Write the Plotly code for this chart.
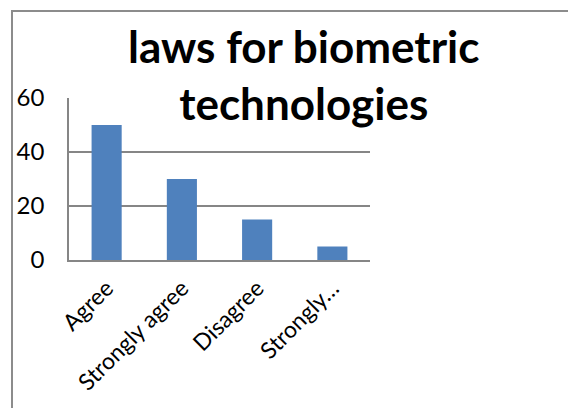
import plotly.graph_objects as go

# Survey responses: laws for biometric technologies
categories = ["Agree", "Strongly agree", "Disagree", "Strongly…"]
responses = [50, 30, 15, 5]
y_ticks = [0, 20, 40, 60]

W, H = 568, 408
ML, MR, MT, MB = 69, 198, 98, 148
plot_w = W - ML - MR
plot_h = H - MT - MB


def px_x(p):
    return (p - ML) / plot_w


def px_y(p):
    return (H - MB - p) / plot_h


fig = go.Figure(
    go.Bar(
        x=categories,
        y=responses,
        marker=dict(color="#4F81BD", line=dict(width=0)),
        width=0.4,
        hoverinfo="x+y",
    )
)

grid = "#868686"
fig.update_layout(
    width=W,
    height=H,
    margin=dict(l=ML, r=MR, t=MT, b=MB, pad=0, autoexpand=False),
    paper_bgcolor="white",
    plot_bgcolor="white",
    showlegend=False,
    font=dict(family="Lato", color="black"),
    xaxis=dict(
        automargin=False,
        showline=True,
        linecolor=grid,
        linewidth=1.5,
        showgrid=False,
        tickangle=-45,
        tickfont=dict(size=23, family="Lato", color="black"),
        ticks="",
        ticklabelstandoff=4,
    ),
    yaxis=dict(
        automargin=False,
        range=[0, 60],
        tickvals=y_ticks,
        showline=True,
        linecolor=grid,
        linewidth=1.5,
        showgrid=True,
        gridcolor=grid,
        gridwidth=1.5,
        zeroline=False,
        ticks="",
        tickfont=dict(size=24, family="Lato", color="black"),
        ticklabelstandoff=18,
    ),
    annotations=[
        dict(
            text="<b>laws for biometric<br>technologies</b>",
            xref="paper",
            yref="paper",
            x=px_x(304),
            y=px_y(18),
            xanchor="center",
            yanchor="top",
            showarrow=False,
            font=dict(size=44, family="Lato", color="black"),
        )
    ],
    shapes=[
        dict(
            type="line",
            xref="paper",
            yref="paper",
            x0=px_x(12),
            x1=px_x(W + 2),
            y0=px_y(11),
            y1=px_y(11),
            line=dict(color="#8C8C8C", width=2),
        ),
        dict(
            type="line",
            xref="paper",
            yref="paper",
            x0=px_x(12),
            x1=px_x(12),
            y0=px_y(10),
            y1=px_y(H + 2),
            line=dict(color="#8C8C8C", width=2),
        ),
    ],
)

fig.write_html("out.html")
